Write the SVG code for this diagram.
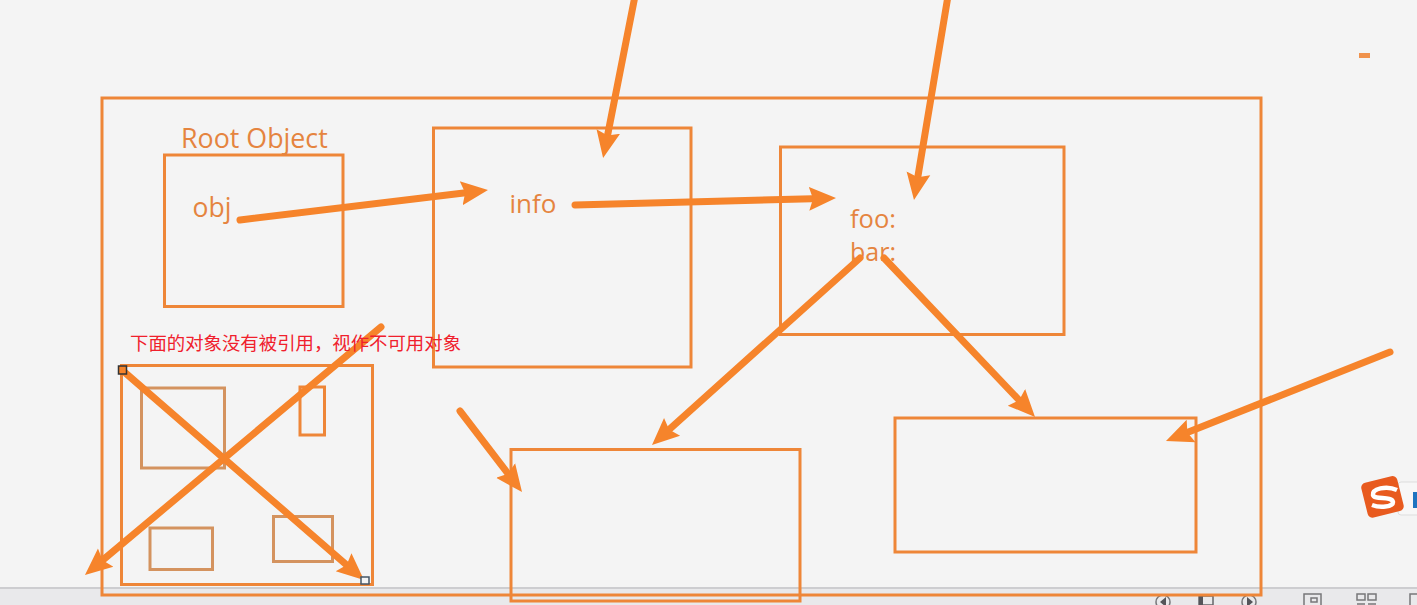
<svg xmlns="http://www.w3.org/2000/svg" width="1417" height="605" viewBox="0 0 1417 605">
<style>
.box{fill:none;stroke:#ee8638;stroke-width:3}
.dim{stroke:#d4935f}
.lbl{font-family:"Open Sans","Noto Sans",sans-serif;fill:#e5843f}
.arrow{stroke:#f6842b;stroke-width:7;fill:none;stroke-linecap:round;marker-end:url(#head)}
.note{font-family:"Noto Sans CJK SC","Noto Sans",sans-serif;fill:#f0202c;font-size:18.4px}
.tool{fill:none;stroke:#77777a;stroke-width:1.5}
</style>
<defs>
<marker id="head" markerUnits="userSpaceOnUse" markerWidth="32" markerHeight="32" refX="13" refY="15" orient="auto">
<path d="M0 3L27 15L0 27L4 15Z" fill="#f6842b"/>
</marker>
</defs>
<rect width="1417" height="605" fill="#f4f4f4"/>
<g id="statusbar">
<rect y="588" width="1417" height="17" fill="#e9e9eb"/>
<rect y="587" width="1417" height="2" fill="#cdcdd0"/>
<circle class="tool" cx="1163" cy="602" r="7"/>
<path d="M1166 597L1160 602L1166 607Z" fill="#55555a"/>
<rect x="1199" y="596" width="14" height="9" fill="none" stroke="#66666a" stroke-width="1.5"/>
<rect x="1199" y="596" width="4" height="9" fill="#55555a"/>
<circle class="tool" cx="1249" cy="602" r="7"/>
<path d="M1247 597L1253 602L1247 607Z" fill="#55555a"/>
<rect class="tool" x="1304" y="594" width="17" height="12"/>
<rect class="tool" x="1311" y="598" width="6" height="4"/>
<rect class="tool" x="1357" y="594" width="8" height="6"/>
<rect class="tool" x="1368" y="594" width="8" height="6"/>
<path class="tool" d="M1357 604H1365M1368 604H1376"/>
<rect class="tool" x="1410" y="594" width="10" height="12"/>
</g>
<g id="outer"><rect class="box" x="102" y="98" width="1159" height="497"/></g>
<g id="root-object">
<rect class="box" x="164.500" y="155" width="178.500" height="151.500"/>
<text class="lbl" x="181" y="148" font-size="26.800">Root Object</text>
<text class="lbl" x="192.500" y="217" font-size="26.500">obj</text>
</g>
<g id="info">
<rect class="box" x="433.500" y="128" width="257.500" height="239"/>
<text class="lbl" x="509.500" y="213" font-size="26">info</text>
</g>
<g id="foo-bar">
<rect class="box" x="780.500" y="147" width="283.500" height="187.500"/>
<text class="lbl" x="850" y="228" font-size="25.500">foo:</text>
<text class="lbl" x="850" y="261" font-size="25">bar:</text>
</g>
<g id="bottom-middle"><rect class="box" x="511" y="449.500" width="289" height="151.500"/></g>
<g id="bottom-right"><rect class="box" x="895" y="418" width="301" height="134"/></g>
<g id="unreferenced">
<rect class="box" x="121.500" y="365.500" width="251" height="219"/>
<rect class="box dim" x="141.500" y="388" width="83" height="80"/>
<rect class="box" x="300" y="387" width="24.500" height="48"/>
<rect class="box dim" x="150" y="528" width="62.500" height="41.500"/>
<rect class="box dim" x="273.500" y="516.500" width="59" height="45"/>
</g>
<g id="connectors">
<path class="arrow" d="M635 -4L605.800 144.300"/>
<path class="arrow" d="M948 -4L916.300 186.200"/>
<path class="arrow" d="M240 220L474.100 191.700"/>
<path class="arrow" d="M575 205L822 198.400"/>
<path class="arrow" d="M860 258L662.400 435.600"/>
<path class="arrow" d="M884 258L1025.400 406.800"/>
<path class="arrow" d="M1390 352L1179 435.800"/>
<path class="arrow" d="M460 411L513.500 480.900"/>
<path class="arrow" d="M381 327L95.700 566"/>
<path class="arrow" d="M122 370L353.400 570.800"/>
</g>
<g id="note"><text class="note" x="130" y="350">下面的对象没有被引用，视作不可用对象</text></g>
<g id="handles">
<rect x="118.500" y="366" width="8" height="8" fill="#f6842b" stroke="#333" stroke-width="1.500"/>
<rect x="361" y="577" width="8" height="7" fill="#f4f4f4" stroke="#445566" stroke-width="1.500"/>
</g>
<g id="minus"><rect x="1359" y="53" width="11" height="5" fill="#f0924c"/></g>
<g id="ime">
<rect x="1398" y="482" width="30" height="33" rx="3" fill="#f7f7f7" stroke="#dddddd"/>
<rect x="1413" y="492" width="5" height="16" fill="#1d74c0"/>
<rect x="1364" y="479" width="37" height="36" rx="5" fill="#e85a1e" transform="rotate(-14 1382 497)"/>
<path d="M1397 490C1386 485 1372 489 1373 495C1374 500 1392 496 1393 502C1393 507 1380 508 1372 505" fill="none" stroke="#fff" stroke-width="4.500"/>
</g>
</svg>
